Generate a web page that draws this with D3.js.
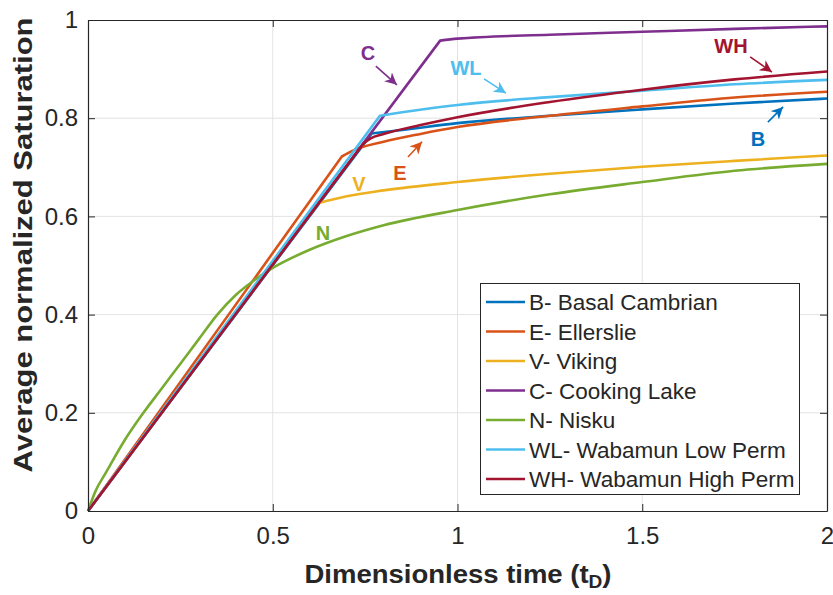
<!DOCTYPE html>
<html><head><meta charset="utf-8">
<script src="https://cdn.jsdelivr.net/npm/d3@7"></script>
<style>body{margin:0;background:#fff}svg{display:block}text{font-family:"Liberation Sans",Arial,Helvetica,sans-serif}</style>
</head><body><svg id="c" width="833" height="595"></svg>
<script>
// ---- data (dimensionless time tD, average normalized saturation) ----
const xTicks = [0, 0.5, 1, 1.5, 2];
const yTicks = [0, 0.2, 0.4, 0.6, 0.8, 1];
const names  = ["B- Basal Cambrian","E- Ellerslie","V- Viking","C- Cooking Lake","N- Nisku","WL- Wabamun Low Perm","WH- Wabamun High Perm"];
const colors = ["#0072BD","#D95319","#EDB120","#7E2F8E","#77AC30","#4DBEEE","#A2142F"];

const tB = [0, 0.768, 0.85, 1.0, 1.25, 1.5, 1.75, 2.0];
const sB = [0, 0.769, 0.776, 0.790, 0.805, 0.818, 0.830, 0.840];
const tE = [0, 0.687, 0.72, 0.8, 0.9, 1.0, 1.25, 1.5, 1.75, 2.0];
const sE = [0, 0.722, 0.735, 0.752, 0.768, 0.782, 0.805, 0.824, 0.842, 0.854];
const tV = [0, 0.623, 0.7, 0.8, 1.0, 1.25, 1.5, 1.75, 2.0];
const sV = [0, 0.627, 0.641, 0.653, 0.670, 0.687, 0.701, 0.713, 0.724];
const tC = [0, 0.953, 1.0, 1.25, 1.5, 1.75, 2.0];
const sC = [0, 0.958, 0.962, 0.970, 0.976, 0.982, 0.987];
const tN = [0, 0.02, 0.05, 0.1, 0.15, 0.2, 0.25, 0.3, 0.35, 0.4, 0.45, 0.5, 0.6, 0.7, 0.8, 1.0, 1.25, 1.5, 1.75, 2.0];
const sN = [0, 0.04, 0.08, 0.145, 0.2, 0.25, 0.30, 0.35, 0.40, 0.44, 0.47, 0.495, 0.532, 0.56, 0.582, 0.613, 0.645, 0.670, 0.693, 0.707];
const tWL = [0, 0.79, 0.85, 1.0, 1.25, 1.5, 1.75, 2.0];
const sWL = [0, 0.805, 0.812, 0.827, 0.843, 0.856, 0.869, 0.878];
const tWH = [0, 0.745, 0.765, 0.8, 0.9, 1.0, 1.25, 1.5, 1.75, 2.0];
const sWH = [0, 0.748, 0.759, 0.768, 0.786, 0.802, 0.833, 0.858, 0.879, 0.895];

const seriesT = [tB, tE, tV, tC, tN, tWL, tWH];
const seriesS = [sB, sE, sV, sC, sN, sWL, sWH];
// index of the break-through point: straight segment before it, smooth curve after
const kneeIdx = [1, 1, 1, 1, 0, 1, 1];

// annotations (data coordinates)
const annoText  = ["C","WL","WH","B","E","V","N"];
const annoColor = ["#7E2F8E","#4DBEEE","#A2142F","#0072BD","#D95319","#EDB120","#77AC30"];
const annoX = [0.758, 1.023, 1.740, 1.813, 0.844, 0.733, 0.636];
const annoY = [0.933, 0.902, 0.947, 0.758, 0.688, 0.666, 0.566];
const arrowColor = ["#7E2F8E","#4DBEEE","#A2142F","#0072BD","#D95319"];
const arrowX0 = [0.779, 1.072, 1.792, 1.840, 0.866];
const arrowY0 = [0.906, 0.880, 0.925, 0.792, 0.721];
const arrowX1 = [0.836, 1.131, 1.851, 1.881, 0.904];
const arrowY1 = [0.868, 0.851, 0.894, 0.823, 0.752];

// ---- drawing ----
const svg = d3.select("#c");
const L = 88, R = 827, T = 20, B = 511;
const x = d3.scaleLinear().domain([0, 2]).range([L, R]);
const y = d3.scaleLinear().domain([0, 1]).range([B, T]);
const axisCol = "#262626";

// grid
svg.append("g").selectAll("line").data(xTicks.slice(1, -1)).join("line")
  .attr("x1", d => x(d)).attr("x2", d => x(d)).attr("y1", T).attr("y2", B)
  .attr("stroke", "#e3e3e3").attr("stroke-width", 1);
svg.append("g").selectAll("line").data(yTicks.slice(1, -1)).join("line")
  .attr("y1", d => y(d)).attr("y2", d => y(d)).attr("x1", L).attr("x2", R)
  .attr("stroke", "#e3e3e3").attr("stroke-width", 1);

// lines
const lineLin = d3.line().x(d => x(d[0])).y(d => y(d[1])).curve(d3.curveLinear);
const lineSm  = d3.line().x(d => x(d[0])).y(d => y(d[1])).curve(d3.curveMonotoneX);
seriesT.forEach((ts, i) => {
  const pts = ts.map((t, j) => [t, seriesS[i][j]]);
  const k = kneeIdx[i];
  let d = "";
  if (k > 0) d += lineLin(pts.slice(0, k + 1));
  const rest = lineSm(pts.slice(k));
  d += k > 0 ? rest.replace(/^M[^A-Za-z]*/, "") : rest;
  svg.append("path").attr("d", d).attr("fill", "none")
    .attr("stroke", colors[i]).attr("stroke-width", 2.6).attr("stroke-linejoin", "round");
});

// axes (MATLAB-like box with inward ticks)
const gx = svg.append("g").attr("transform", `translate(0,${B})`)
  .call(d3.axisBottom(x).tickValues(xTicks).tickFormat(d3.format("")).tickSizeInner(-7).tickSizeOuter(0).tickPadding(16));
const gy = svg.append("g").attr("transform", `translate(${L},0)`)
  .call(d3.axisLeft(y).tickValues(yTicks).tickFormat(d3.format("")).tickSizeInner(-7).tickSizeOuter(0).tickPadding(10));
const gxt = svg.append("g").attr("transform", `translate(0,${T})`)
  .call(d3.axisTop(x).tickValues(xTicks).tickFormat("").tickSizeInner(-7).tickSizeOuter(0));
const gyr = svg.append("g").attr("transform", `translate(${R},0)`)
  .call(d3.axisRight(y).tickValues(yTicks).tickFormat("").tickSizeInner(-7).tickSizeOuter(0));
[gx, gy, gxt, gyr].forEach(g => {
  g.selectAll("path").attr("stroke", axisCol).attr("stroke-width", 1.2);
  g.selectAll("line").attr("stroke", axisCol).attr("stroke-width", 1);
  g.selectAll("text").attr("fill", axisCol).attr("font-size", 24)
    .attr("font-family", "'Liberation Sans', Arial, sans-serif");
});

// axis titles
svg.append("text").attr("x", 458).attr("y", 583).attr("text-anchor", "middle")
  .attr("font-size", 26).attr("font-weight", "bold").attr("fill", axisCol)
  .attr("textLength", 307).attr("lengthAdjust", "spacingAndGlyphs")
  .html('Dimensionless time (t<tspan font-size="18" dy="5">D</tspan><tspan dy="-5">)</tspan>');
svg.append("text").attr("transform", `translate(32,245) rotate(-90)`)
  .attr("text-anchor", "middle").attr("font-size", 26).attr("font-weight", "bold").attr("fill", axisCol)
  .attr("textLength", 455).attr("lengthAdjust", "spacingAndGlyphs")
  .text("Average normalized Saturation");

// annotations
svg.append("defs").selectAll("marker").data(arrowColor).join("marker")
  .attr("id", (d, i) => "ah" + i).attr("viewBox", "0 0 10 10").attr("refX", 10).attr("refY", 5)
  .attr("markerWidth", 12).attr("markerHeight", 12).attr("markerUnits", "userSpaceOnUse").attr("orient", "auto")
  .append("path").attr("d", "M0,0 L10,5 L0,10 L3,5 Z").attr("fill", d => d);
arrowColor.forEach((c, i) => {
  svg.append("line").attr("x1", x(arrowX0[i])).attr("y1", y(arrowY0[i]))
    .attr("x2", x(arrowX1[i])).attr("y2", y(arrowY1[i]))
    .attr("stroke", c).attr("stroke-width", 1.6).attr("marker-end", `url(#ah${i})`);
});
annoText.forEach((t, i) => {
  svg.append("text").attr("x", x(annoX[i])).attr("y", y(annoY[i])).attr("dy", "0.36em")
    .attr("text-anchor", "middle").attr("font-size", 20).attr("font-weight", "bold")
    .attr("fill", annoColor[i]).text(t);
});

// legend
const lg = svg.append("g");
lg.append("rect").attr("x", 480.5).attr("y", 283.5).attr("width", 319).attr("height", 211)
  .attr("fill", "#fff").attr("stroke", axisCol).attr("stroke-width", 1);
names.forEach((n, i) => {
  const yy = 302 + i * 29.5;
  lg.append("line").attr("x1", 486).attr("x2", 525).attr("y1", yy).attr("y2", yy)
    .attr("stroke", colors[i]).attr("stroke-width", 2.6);
  lg.append("text").attr("x", 529).attr("y", yy).attr("dy", "0.36em")
    .attr("font-size", 22.5).attr("fill", axisCol).text(n);
});
</script></body></html>
